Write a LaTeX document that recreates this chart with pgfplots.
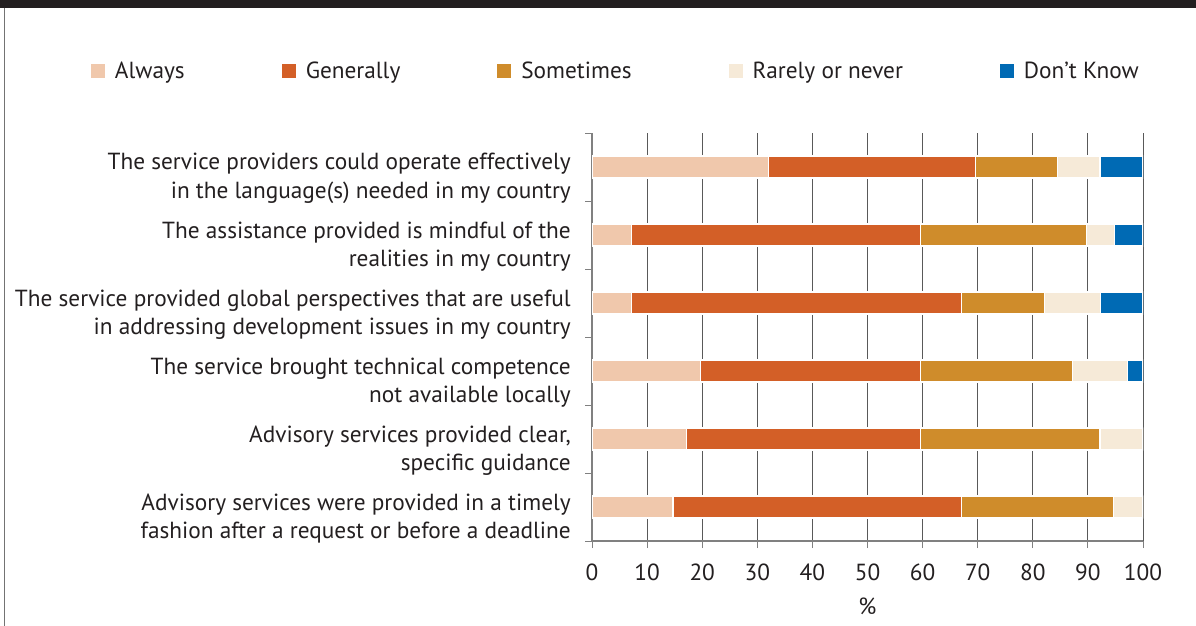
\documentclass[border=0pt]{standalone}
\usepackage{fontspec}
\setmainfont{PT Sans}
\usepackage{pgfplots}
\pgfplotsset{compat=1.18}
\definecolor{cAlw}{HTML}{F0C8AC}
\definecolor{cGen}{HTML}{D35F27}
\definecolor{cSom}{HTML}{CF8C2B}
\definecolor{cRar}{HTML}{F6EAD8}
\definecolor{cDK}{HTML}{006AB4}
\definecolor{txt}{HTML}{231F20}
\newcommand{\lf}{\fontsize{23.3}{28.5}\selectfont}
\pgfplotsset{sq/.style={legend image code/.code={\fill[##1,draw=none] (0pt,-7pt) rectangle (14pt,7pt);}}}
\begin{document}
\begin{tikzpicture}[x=1pt,y=1pt]
\path[use as bounding box] (0,0) rectangle (1196,626);
\fill[txt] (0,618) rectangle (1196,626);
\draw[black!55, line width=1pt] (4.5,0) -- (4.5,618);
\begin{axis}[
  at={(592pt,85pt)}, anchor=south west,
  scale only axis, width=551pt, height=408pt,
  xbar stacked, bar width=22pt,
  xmin=0, xmax=100, ymin=-0.5, ymax=5.5, y dir=reverse,
  axis lines*=left, axis line style={-, draw=black!50, line width=1.2pt},
  xtick={0,10,...,100}, tick align=outside, major tick length=7pt,
  tick style={draw=black!50, line width=1pt},
  xmajorgrids, grid style={draw=black!65, line width=1pt},
  ytick={-0.5,0.5,1.5,2.5,3.5,4.5,5.5}, yticklabels={},
  extra y ticks={0,1,2,3,4,5},
  extra y tick labels={{The service providers could operate effectively\\in the language(s) needed in my country},
    {The assistance provided is mindful of the\\realities in my country},
    {The service provided global perspectives that are useful\\in addressing development issues in my country},
    {The service brought technical competence\\not available locally},
    {Advisory services provided clear,\\specific guidance},
    {Advisory services were provided in a timely\\fashion after a request or before a deadline}},
  extra y tick style={major tick length=0pt, ymajorgrids=false},
  yticklabel style={align=right, font=\lf, text=txt, inner sep=0pt, xshift=-21pt, yshift=-11.5pt},
  xticklabel style={font=\lf, text=txt, inner sep=0pt, yshift=-16pt},
  /pgf/number format/assume math mode=true,
  xlabel={\%}, xlabel style={font=\lf, text=txt, yshift=-13pt},
  legend columns=5,
  legend style={at={(axis description cs:-0.9093,1.152)}, anchor=west, draw=none, fill=none,
    inner sep=0pt, outer sep=0pt, font=\lf, text=txt, nodes={inner sep=0pt},
    /tikz/every odd column/.append style={column sep=10pt},
    /tikz/every even column/.append style={column sep=97pt}},
]
\addplot[sq, fill=cAlw, draw=white, line width=1.2pt] coordinates {(32.1,0) (7.2,1) (7.2,2) (19.7,3) (17.2,4) (14.7,5)};
\addplot[sq, fill=cGen, draw=white, line width=1.2pt] coordinates {(37.5,0) (52.4,1) (59.9,2) (39.9,3) (42.4,4) (52.4,5)};
\addplot[sq, fill=cSom, draw=white, line width=1.2pt] coordinates {(14.9,0) (30.1,1) (15.0,2) (27.6,3) (32.6,4) (27.6,5)};
\addplot[sq, fill=cRar, draw=white, line width=1.2pt] coordinates {(7.7,0) (5.1,1) (10.2,2) (10.0,3) (7.8,4) (5.3,5)};
\addplot[sq, fill=cDK, draw=white, line width=1.2pt] coordinates {(7.8,0) (5.2,1) (7.7,2) (2.8,3)};
\legend{Always, Generally, Sometimes, Rarely or never, Don’t Know}
\end{axis}
\end{tikzpicture}
\end{document}
